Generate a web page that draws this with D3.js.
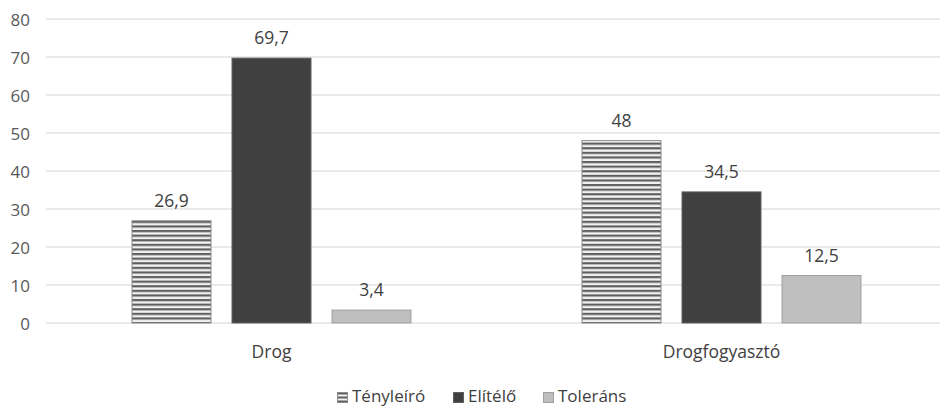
<!DOCTYPE html>
<html><head><meta charset="utf-8">
<script src="https://cdn.jsdelivr.net/npm/d3@7"></script>
<style>body{margin:0;background:#fff}svg{display:block}text{font-family:"Open Sans",sans-serif}</style>
</head><body><svg id="c" width="940" height="407"></svg>
<script>
const categories = ["Drog", "Drogfogyasztó"];
const seriesNames = ["Tényleíró", "Elítélő", "Toleráns"];
const tenyleiro = [26.9, 48];
const elitelo = [69.7, 34.5];
const tolerans = [3.4, 12.5];
const yTicks = [0, 10, 20, 30, 40, 50, 60, 70, 80];
const labelText = v => String(v).replace(".", ",");

const values = [tenyleiro, elitelo, tolerans];
const fills = ["url(#hatch)", "#404040", "#bfbfbf"];
const strokes = ["#8a8a8a", "#606060", "#a0a0a0"];
const FONT = '"Open Sans",sans-serif';

const svg = d3.select("#c");
const defs = svg.append("defs");
const pat = defs.append("pattern").attr("id", "hatch").attr("patternUnits", "userSpaceOnUse")
  .attr("width", 8).attr("height", 4.6);
pat.append("rect").attr("width", 8).attr("height", 4.6).attr("fill", "#f2f2f2");
pat.append("rect").attr("y", 0).attr("width", 8).attr("height", 2.2).attr("fill", "#5f5f5f");
const pat2 = defs.append("pattern").attr("id", "hatchS").attr("patternUnits", "userSpaceOnUse")
  .attr("width", 8).attr("height", 4);
pat2.append("rect").attr("width", 8).attr("height", 4).attr("fill", "#f2f2f2");
pat2.append("rect").attr("y", 0.5).attr("width", 8).attr("height", 2).attr("fill", "#5f5f5f");

const y = d3.scaleLinear().domain([0, 80]).range([323, 19]);
const x0 = d3.scaleBand().domain(categories).range([46.5, 946.5]).padding(0);
const x1 = d3.scaleBand().domain(seriesNames).range([85.5, 364.5]).paddingInner(0.21).paddingOuter(0);

// gridlines
svg.append("g").selectAll("line").data(yTicks).join("line")
  .attr("x1", 46).attr("x2", 940)
  .attr("y1", d => y(d)).attr("y2", d => y(d))
  .attr("stroke", "#e3e3e3").attr("stroke-width", 1.3);

// y axis labels
const yAxis = d3.axisLeft(y).tickValues(yTicks).tickSize(0).tickPadding(0);
const ya = svg.append("g").attr("transform", "translate(30,0)").call(yAxis);
ya.select(".domain").remove();
ya.selectAll("text").attr("font-size", 17).attr("fill", "#595959").attr("font-family", FONT).attr("dy", "0.36em");

// bars
const g = svg.append("g");
seriesNames.forEach((s, si) => {
  categories.forEach((c, ci) => {
    const v = values[si][ci];
    const bx = x0(c) + x1(s);
    g.append("rect").attr("x", bx).attr("y", y(v)).attr("width", x1.bandwidth()).attr("height", y(0) - y(v))
      .attr("fill", fills[si]).attr("stroke", strokes[si]).attr("stroke-width", 1);
    g.append("text").attr("x", bx + x1.bandwidth() / 2).attr("y", y(v) - 14)
      .attr("text-anchor", "middle").attr("font-size", 17.5).attr("fill", "#404040").text(labelText(v));
  });
});

// x axis
const xAxis = d3.axisBottom(x0).tickSize(0).tickPadding(0);
const xa = svg.append("g").attr("transform", "translate(0,358)").call(xAxis);
xa.select(".domain").remove();
xa.selectAll("text").attr("font-size", 17.5).attr("fill", "#404040").attr("font-family", FONT).attr("dy", 0);

// legend
const legX = [337, 453, 543];
const leg = svg.append("g");
seriesNames.forEach((s, i) => {
  leg.append("rect").attr("x", legX[i] + 0.5).attr("y", 392.5).attr("width", 10).attr("height", 10)
    .attr("fill", i === 0 ? "url(#hatchS)" : fills[i]).attr("stroke", strokes[i]);
  leg.append("text").attr("x", legX[i] + 15).attr("y", 402).attr("font-size", 17).attr("fill", "#404040").text(s);
});
</script></body></html>
